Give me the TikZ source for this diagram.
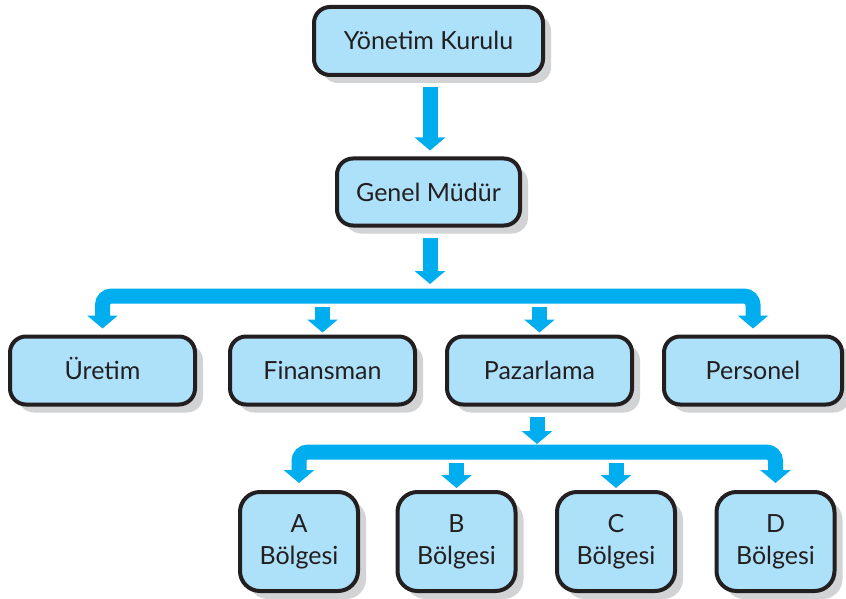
\documentclass[tikz,border=0pt]{standalone}
\usepackage{fontspec}
\setmainfont{Lato}
\usetikzlibrary{arrows.meta,shadows,calc}
\definecolor{boxfill}{HTML}{ADE1FA}
\definecolor{arrowc}{HTML}{00AEEF}
\definecolor{txt}{HTML}{231F20}
\definecolor{shad}{HTML}{D1D3D4}
\tikzset{
  box/.style={draw=txt, line width=4pt, fill=boxfill, rounded corners=16pt,
    text=txt, font=\fontsize{25}{30}\selectfont, inner sep=0pt, align=center,
    drop shadow={shadow xshift=8pt, shadow yshift=-8pt, fill=shad, opacity=1}},
  oneline/.style={box, text height=20pt, text depth=2pt},
  wide/.style={oneline, minimum width=185pt, minimum height=68pt},
  small/.style={box, rounded corners=20pt, minimum width=118pt, minimum height=99pt},
  conn/.style={draw=arrowc, line width=15pt, rounded corners=9pt,
    -{Triangle[width=30pt,length=13pt]}}
}
\begin{document}
\begin{tikzpicture}[x=1pt,y=-1pt]
\useasboundingbox (0,0) rectangle (846,599);
% boxes
\node[oneline, minimum width=229pt, minimum height=68pt] (yk) at (428.5,41) {Yönetim Kurulu};
\node[oneline, minimum width=183pt, minimum height=67pt] (gm) at (428.5,192) {Genel Müdür};
\node[wide] (ur) at (102.5,370.5) {Üretim};
\node[wide] (fi) at (322.5,370.5) {Finansman};
\node[wide] (pz) at (539.5,370.5) {Pazarlama};
\node[wide, minimum width=178pt] (pe) at (753,370.5) {Personel};
\node[small] (a) at (299,541.5) {A\\[2pt]Bölgesi};
\node[small] (b) at (456.5,541.5) {B\\[2pt]Bölgesi};
\node[small] (c) at (616,541.5) {C\\[2pt]Bölgesi};
\node[small] (d) at (775.5,541.5) {D\\[2pt]Bölgesi};
% junction points
\coordinate (j1) at (430,296);
\coordinate (j2) at (537,452);
% connectors
\draw[conn, shorten >=6pt] ([yshift=-10pt]yk.south -| j1) -- (gm.north -| j1);
\draw[conn, shorten >=12pt] ([yshift=-10pt]gm.south -| j1) -- (j1);
\draw[conn, shorten >=6pt] (j1) -| (ur.north);
\draw[conn, shorten >=6pt] (j1) -| (pe.north);
\draw[conn, shorten >=2pt] ($(fi.north |- j1)+(0,11)$) -- (fi.north);
\draw[conn, shorten >=2pt] ($(pz.north |- j1)+(0,11)$) -- (pz.north);
\draw[conn, shorten >=8pt] ([yshift=-10pt]pz.south -| j2) -- (j2);
\draw[conn, shorten >=7pt] (j2) -| (a.north);
\draw[conn, shorten >=7pt] (j2) -| (d.north);
\draw[conn, shorten >=2pt] ($(b.north |- j2)+(0,11)$) -- (b.north);
\draw[conn, shorten >=2pt] ($(c.north |- j2)+(0,11)$) -- (c.north);
\end{tikzpicture}
\end{document}
